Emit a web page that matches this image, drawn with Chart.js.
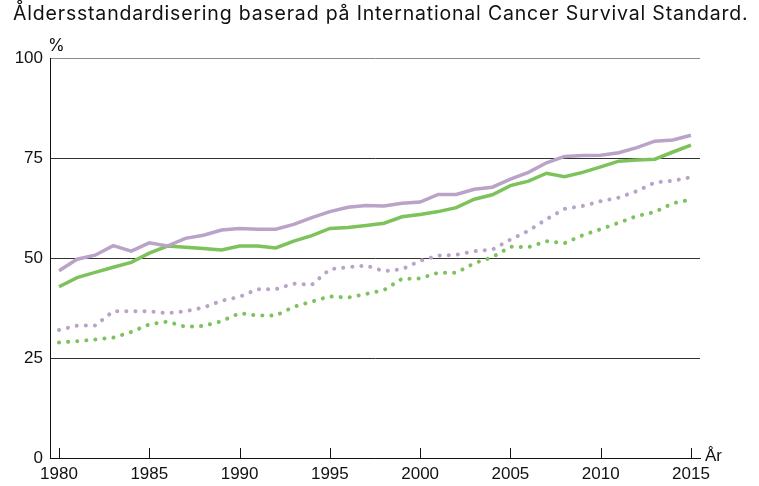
<!DOCTYPE html>
<html>
<head>
<meta charset="utf-8">
<script src="https://cdn.jsdelivr.net/npm/chart.js@4"></script>
<style>
  html, body { margin: 0; padding: 0; background: #fff; }
  #wrap { width: 759px; height: 486px; position: relative; }
</style>
</head>
<body>
<div id="wrap"><canvas id="myChart" width="759" height="486"></canvas></div>
<script>
// data
var years = [1980, 1981, 1982, 1983, 1984, 1985, 1986, 1987, 1988, 1989,
  1990, 1991, 1992, 1993, 1994, 1995, 1996, 1997, 1998, 1999,
  2000, 2001, 2002, 2003, 2004, 2005, 2006, 2007, 2008, 2009,
  2010, 2011, 2012, 2013, 2014, 2015];
var purpleSolid = [46.8, 49.7, 50.7, 53.1, 51.7, 53.8, 53.0, 54.9, 55.7, 57.0,
  57.4, 57.2, 57.2, 58.4, 60.1, 61.6, 62.7, 63.1, 63.0, 63.7,
  64.0, 65.9, 65.9, 67.2, 67.7, 69.7, 71.4, 73.8, 75.4, 75.6,
  75.7, 76.3, 77.6, 79.2, 79.5, 80.7];
var greenSolid = [42.8, 45.1, 46.4, 47.7, 48.9, 51.2, 53.0, 52.7, 52.4, 52.0,
  53.0, 53.0, 52.5, 54.2, 55.6, 57.4, 57.6, 58.1, 58.7, 60.3,
  60.9, 61.6, 62.6, 64.7, 65.8, 68.1, 69.2, 71.2, 70.3, 71.4,
  72.8, 74.2, 74.5, 74.7, 76.5, 78.2];
var purpleDotted = [32.0, 33.1, 33.1, 36.7, 36.7, 36.7, 36.2, 36.7, 37.6, 39.3,
  40.3, 42.2, 42.2, 43.6, 43.3, 47.2, 47.7, 48.1, 46.7, 47.2,
  49.3, 50.6, 50.8, 51.7, 52.1, 54.6, 56.8, 59.7, 62.3, 63.0,
  64.2, 65.1, 66.7, 68.9, 69.3, 70.2];
var greenDotted = [28.9, 29.2, 29.6, 30.1, 31.5, 33.4, 34.1, 32.8, 33.0, 34.2,
  36.2, 35.6, 35.6, 37.8, 39.1, 40.4, 40.1, 41.0, 42.0, 44.8,
  44.9, 46.3, 46.3, 48.7, 50.2, 52.8, 52.7, 54.2, 53.7, 55.7,
  57.2, 58.8, 60.5, 61.5, 63.7, 64.6];
var xTicks = [1980, 1985, 1990, 1995, 2000, 2005, 2010, 2015];
var yTicks = [0, 25, 50, 75, 100];
var titleText = "Åldersstandardisering baserad på International Cancer Survival Standard.";

var purple = "#b9a3c9";
var green = "#7dc25a";

function pts(vals) {
  return vals.map(function (v, i) { return {x: years[i], y: v}; });
}

// title, unit labels and the small inward ticks on the x axis
var extras = {
  id: "extras",
  afterDraw: function (chart) {
    var ctx = chart.ctx;
    var xs = chart.scales.x;
    var area = chart.chartArea;
    ctx.save();
    ctx.fillStyle = "#111";
    ctx.textBaseline = "alphabetic";
    ctx.textAlign = "left";
    ctx.font = "19.5px Inter";
    // spread the title so it runs the same width as the original
    var w = ctx.measureText(titleText).width;
    var gap = Math.max(0, (735 - w) / (titleText.length - 1));
    ctx.letterSpacing = gap.toFixed(2) + "px";
    ctx.fillText(titleText, 13, 20);
    ctx.letterSpacing = "0px";
    ctx.font = "17px Inter";
    ctx.fillText("%", 48, 51);
    ctx.font = "17px 'Liberation Sans'";
    ctx.fillText("År", 705, 461);
    ctx.strokeStyle = "#111";
    ctx.lineWidth = 1;
    xTicks.forEach(function (t) {
      var px = Math.round(xs.getPixelForValue(t)) + 0.5;
      ctx.beginPath();
      ctx.moveTo(px, area.bottom);
      ctx.lineTo(px, area.bottom - 10);
      ctx.stroke();
    });
    ctx.restore();
  }
};

new Chart("myChart", {
  type: "line",
  data: {
    datasets: [
      {data: pts(purpleDotted), borderColor: purple, borderWidth: 4, borderDash: [0.1, 9], borderCapStyle: "round"},
      {data: pts(greenDotted), borderColor: green, borderWidth: 4, borderDash: [0.1, 9], borderCapStyle: "round"},
      {data: pts(purpleSolid), borderColor: purple, borderWidth: 3.5},
      {data: pts(greenSolid), borderColor: green, borderWidth: 3.5}
    ]
  },
  options: {
    responsive: false,
    animation: false,
    events: [],
    elements: {point: {radius: 0}, line: {tension: 0, fill: false}},
    layout: {padding: {top: 58, right: 59, left: 0, bottom: 0}},
    plugins: {legend: {display: false}, title: {display: false}, tooltip: {enabled: false}},
    scales: {
      x: {
        type: "linear",
        min: 1979.5,
        max: 2015.5,
        afterBuildTicks: function (s) { s.ticks = xTicks.map(function (v) { return {value: v}; }); },
        afterFit: function (s) { s.height = 28; },
        grid: {display: false, drawTicks: false},
        border: {display: true, color: "#111", width: 1},
        ticks: {color: "#111", padding: 6, font: {family: "Liberation Sans", size: 17}, maxRotation: 0,
          callback: function (v) { return String(v); }}
      },
      y: {
        min: 0,
        max: 100,
        afterBuildTicks: function (s) { s.ticks = yTicks.map(function (v) { return {value: v}; }); },
        afterFit: function (s) { s.width = 50; },
        grid: {drawTicks: false, color: function (c) { return c.tick && c.tick.value === 100 ? "#8a8a8a" : "#333"; }},
        border: {display: true, color: "#111", width: 1},
        ticks: {color: "#111", padding: 7, font: {family: "Liberation Sans", size: 17}}
      }
    }
  },
  plugins: [extras]
});
</script>
</body>
</html>
